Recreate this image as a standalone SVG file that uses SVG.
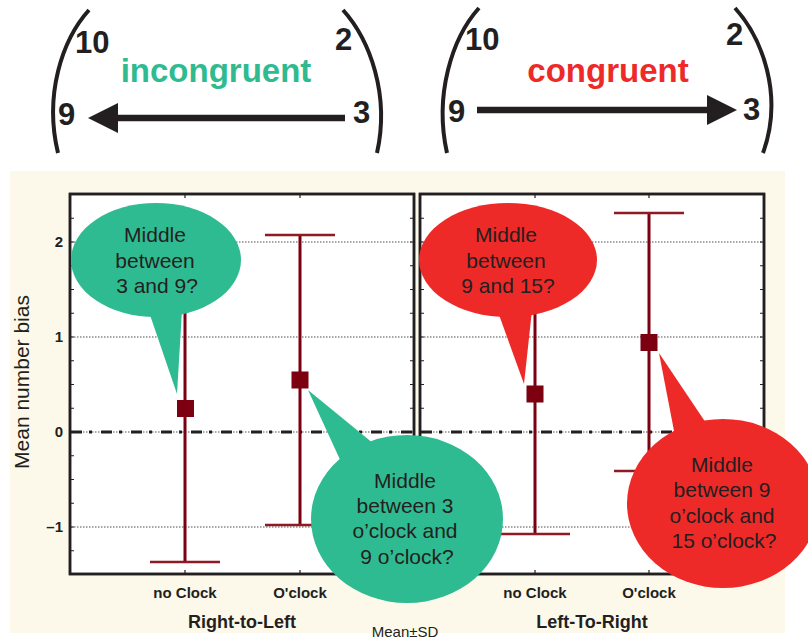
<svg xmlns="http://www.w3.org/2000/svg" width="808" height="643" viewBox="0 0 808 643">
<style>
.arc{fill:none;stroke:#231f20;stroke-width:4;stroke-linecap:butt}
.num{font-family:"Liberation Sans",Arial,sans-serif;font-weight:bold;font-size:31px;fill:#231f20}
.title{font-family:"Liberation Sans",Arial,sans-serif;font-weight:bold;font-size:33px;text-anchor:middle}
.shaft{stroke:#231f20;stroke-width:6.5}
.head{fill:#231f20}
.panel{fill:#fff;stroke:#231f20;stroke-width:2.5}
.grid{stroke:#8a8a8a;stroke-width:1.3;stroke-dasharray:1.5 1.5;fill:none}
.zero{stroke:#231f20;stroke-width:3;stroke-dasharray:11 7 3 9;fill:none}
.tick{stroke:#231f20;stroke-width:1.2;fill:none}
.bar{stroke:#7a0010;stroke-width:3}
.cap{stroke:#8e1b24;stroke-width:2.5}
.mean{fill:#7c0010}
.green{fill:#2fbb91}
.red{fill:#ee2a29}
.btxt{font-family:"Liberation Sans",Arial,sans-serif;font-size:21px;fill:#231f20;text-anchor:middle}
.ylab{font-family:"Liberation Sans",Arial,sans-serif;font-weight:bold;font-size:15px;fill:#231f20;text-anchor:end}
.xlab{font-family:"Liberation Sans",Arial,sans-serif;font-weight:bold;font-size:15px;fill:#231f20;text-anchor:middle}
.glab{font-family:"Liberation Sans",Arial,sans-serif;font-weight:bold;font-size:18px;fill:#231f20;text-anchor:middle}
</style>

<!-- Clock icons -->
<g id="clock-incongruent">
  <path class="arc" d="M89 10 C62 40 44 95 58 153"/>
  <path class="arc" d="M343 10 C370 40 390 95 377 153"/>
  <text class="num" x="75" y="53">10</text>
  <text class="num" x="335" y="50">2</text>
  <text class="num" x="58" y="125">9</text>
  <text class="num" x="353" y="123">3</text>
  <line class="shaft" x1="345" y1="118" x2="114" y2="118"/>
  <polygon class="head" points="88,118 118,103 118,133"/>
  <text class="title" x="216" y="82" fill="#2fbb8f">incongruent</text>
</g>
<g id="clock-congruent">
  <path class="arc" d="M479 8 C452 38 434 95 447 153"/>
  <path class="arc" d="M735 8 C762 38 784 95 763 153"/>
  <text class="num" x="465" y="50">10</text>
  <text class="num" x="726" y="45">2</text>
  <text class="num" x="448" y="122">9</text>
  <text class="num" x="743" y="120">3</text>
  <line class="shaft" x1="477" y1="110" x2="711" y2="110"/>
  <polygon class="head" points="737,110 707,95 707,125"/>
  <text class="title" x="608" y="82" fill="#ed2a28">congruent</text>
</g>

<!-- Chart -->
<g id="chart-background">
  <rect x="10" y="171" width="775" height="462" fill="#fcf9eb"/>
</g>

<g id="panel-right-to-left">
  <rect class="panel" x="70" y="194" width="344" height="380"/>
  <path class="grid" d="M71 242H413M71 337H413M71 432H413M71 527H413"/>
  <path class="zero" d="M71 432H413"/>
  <path class="tick" d="M70 218.25h4M70 242h4M70 265.75h4M70 289.5h4M70 313.25h4M70 337h4M70 360.75h4M70 384.5h4M70 408.25h4M70 432h4M70 455.75h4M70 479.5h4M70 503.25h4M70 527h4M70 550.75h4M414 218.25h-4M414 242h-4M414 265.75h-4M414 289.5h-4M414 313.25h-4M414 337h-4M414 360.75h-4M414 384.5h-4M414 408.25h-4M414 432h-4M414 455.75h-4M414 479.5h-4M414 503.25h-4M414 527h-4M414 550.75h-4M185 194v4M300 194v4M185 574v-4M300 574v-4"/>
  <rect x="70" y="194" width="344" height="380" fill="none" stroke="#231f20" stroke-width="2.5"/>
</g>

<g id="panel-left-to-right">
  <rect class="panel" x="420" y="194" width="344" height="380"/>
  <path class="grid" d="M421 242H763M421 337H763M421 432H763M421 527H763"/>
  <path class="zero" d="M421 432H763"/>
  <path class="tick" d="M420 218.25h4M420 242h4M420 265.75h4M420 289.5h4M420 313.25h4M420 337h4M420 360.75h4M420 384.5h4M420 408.25h4M420 432h4M420 455.75h4M420 479.5h4M420 503.25h4M420 527h4M420 550.75h4M764 218.25h-4M764 242h-4M764 265.75h-4M764 289.5h-4M764 313.25h-4M764 337h-4M764 360.75h-4M764 384.5h-4M764 408.25h-4M764 432h-4M764 455.75h-4M764 479.5h-4M764 503.25h-4M764 527h-4M764 550.75h-4M535 194v4M649 194v4M535 574v-4M649 574v-4"/>
  <rect x="420" y="194" width="344" height="380" fill="none" stroke="#231f20" stroke-width="2.5"/>
</g>

<g id="error-bars">
  <line class="bar" x1="185" y1="254" x2="185" y2="562"/>
  <line class="cap" x1="150" y1="254" x2="220" y2="254"/>
  <line class="cap" x1="150" y1="562" x2="220" y2="562"/>
  <rect class="mean" x="177" y="400" width="17" height="17"/>

  <line class="bar" x1="300" y1="235" x2="300" y2="525"/>
  <line class="cap" x1="265" y1="235" x2="335" y2="235"/>
  <line class="cap" x1="265" y1="525" x2="335" y2="525"/>
  <rect class="mean" x="291.5" y="371.5" width="17" height="17"/>

  <line class="bar" x1="535" y1="254" x2="535" y2="534"/>
  <line class="cap" x1="500" y1="254" x2="570" y2="254"/>
  <line class="cap" x1="500" y1="534" x2="570" y2="534"/>
  <rect class="mean" x="526.5" y="385.5" width="17" height="17"/>

  <line class="bar" x1="649" y1="213" x2="649" y2="471"/>
  <line class="cap" x1="614" y1="213" x2="684" y2="213"/>
  <line class="cap" x1="614" y1="471" x2="684" y2="471"/>
  <rect class="mean" x="640.5" y="334" width="17" height="17"/>
</g>

<!-- Axis labels -->
<g id="axis-labels">
  <text class="ylab" x="63" y="247">2</text>
  <text class="ylab" x="63" y="342">1</text>
  <text class="ylab" x="63" y="437">0</text>
  <text class="ylab" x="63" y="532">–1</text>
  <text x="29" y="382" transform="rotate(-90 29 382)" font-family="Liberation Sans, Arial, sans-serif" font-size="21" fill="#231f20" text-anchor="middle">Mean number bias</text>
  <text class="xlab" x="185" y="598">no Clock</text>
  <text class="xlab" x="300" y="598">O'clock</text>
  <text class="xlab" x="535" y="598">no Clock</text>
  <text class="xlab" x="649" y="598">O'clock</text>
  <text class="glab" x="242" y="628">Right-to-Left</text>
  <text class="glab" x="592" y="628">Left-To-Right</text>
  <text x="405" y="637" font-family="Liberation Sans, Arial, sans-serif" font-size="15" fill="#231f20" text-anchor="middle">Mean±SD</text>
</g>

<!-- Speech bubbles -->
<g id="bubble-rtl-noclock">
  <ellipse class="green" cx="156" cy="260" rx="85" ry="57"/>
  <polygon class="green" points="149,312 182,310 177,394"/>
  <text class="btxt" x="155" y="242">Middle</text>
  <text class="btxt" x="155" y="268">between</text>
  <text class="btxt" x="157" y="293">3 and 9?</text>
</g>
<g id="bubble-ltr-noclock">
  <ellipse class="red" cx="508" cy="260" rx="89" ry="57"/>
  <polygon class="red" points="498,312 532,310 524,384"/>
  <text class="btxt" x="506" y="242">Middle</text>
  <text class="btxt" x="506" y="268">between</text>
  <text class="btxt" x="508" y="293">9 and 15?</text>
</g>
<g id="bubble-rtl-oclock">
  <ellipse class="green" cx="407" cy="519" rx="96" ry="84"/>
  <polygon class="green" points="308,390 342,464 374,444"/>
  <text class="btxt" x="405" y="488">Middle</text>
  <text class="btxt" x="405" y="513">between 3</text>
  <text class="btxt" x="405" y="538">o’clock and</text>
  <text class="btxt" x="407" y="564">9 o’clock?</text>
</g>
<g id="bubble-ltr-oclock">
  <ellipse class="red" cx="723" cy="503.5" rx="96" ry="84.5"/>
  <polygon class="red" points="659,353 675,436 708,426"/>
  <text class="btxt" x="722" y="472">Middle</text>
  <text class="btxt" x="722" y="497">between 9</text>
  <text class="btxt" x="722" y="523">o’clock and</text>
  <text class="btxt" x="724" y="548">15 o’clock?</text>
</g>
</svg>
